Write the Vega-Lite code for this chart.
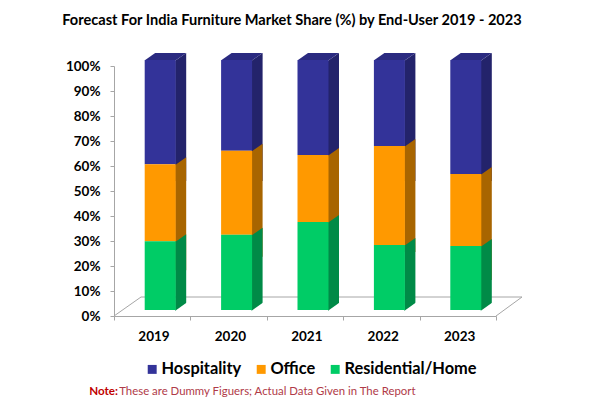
{
  "$schema": "https://vega.github.io/schema/vega-lite/v6.json",
  "autosize": "none",
  "padding": {"left": 114, "top": 66, "right": 104, "bottom": 94},
  "width": 382,
  "height": 250,
  "background": "white",
  "title": {
    "text": "Forecast For India Furniture Market Share (%) by End-User 2019 - 2023",
    "font": "Lato", "fontSize": 14.6, "fontWeight": "bold", "color": "#000000",
    "anchor": "middle", "dx": -13, "offset": 25
  },
  "datasets": {
    "shares": [
      {"year": "2019", "series": "Hospitality", "share": 0.417},
      {"year": "2019", "series": "Office", "share": 0.308},
      {"year": "2019", "series": "Residential/Home", "share": 0.275},
      {"year": "2020", "series": "Hospitality", "share": 0.363},
      {"year": "2020", "series": "Office", "share": 0.336},
      {"year": "2020", "series": "Residential/Home", "share": 0.301},
      {"year": "2021", "series": "Hospitality", "share": 0.38},
      {"year": "2021", "series": "Office", "share": 0.268},
      {"year": "2021", "series": "Residential/Home", "share": 0.352},
      {"year": "2022", "series": "Hospitality", "share": 0.344},
      {"year": "2022", "series": "Office", "share": 0.396},
      {"year": "2022", "series": "Residential/Home", "share": 0.26},
      {"year": "2023", "series": "Hospitality", "share": 0.456},
      {"year": "2023", "series": "Office", "share": 0.288},
      {"year": "2023", "series": "Residential/Home", "share": 0.256}
    ]
  },
  "data": {"name": "shares"},
  "transform": [
    {"stack": "share", "groupby": ["year"], "sort": [{"field": "series", "order": "descending"}], "as": ["y0", "y1"]}
  ],
  "layer": [
    {
      "transform": [{"filter": "datum.year == '2021' && datum.series == 'Office'"}],
      "mark": {
        "type": "point", "filled": false, "size": 4, "strokeWidth": 1, "color": "#a6a6a6", "opacity": 1,
        "shape": "M-191,0L-164,-19L217,-19L191,0"
      },
      "encoding": {
        "x": {"field": "year", "type": "nominal"},
        "y": {"datum": 0, "type": "quantitative", "title": null, "scale": {"domain": [0, 1], "nice": false}}
      }
    },
    {
      "transform": [{"filter": "datum.series == 'Hospitality'"}],
      "mark": {
        "type": "point", "filled": true, "size": 4, "opacity": 1, "strokeWidth": 0, "color": "#23236b",
        "shape": "M23,-5.3L34,-13L34,115L23,115Z"
      },
      "encoding": {
        "x": {"field": "year", "type": "nominal"},
        "y": {"field": "y1", "type": "quantitative"}
      }
    },
    {
      "transform": [{"filter": "datum.series == 'Office'"}],
      "mark": {
        "type": "point", "filled": true, "size": 4, "opacity": 1, "strokeWidth": 0, "color": "#a86500",
        "shape": "M23,-5.3L34,-13L34,100L23,100Z"
      },
      "encoding": {
        "x": {"field": "year", "type": "nominal"},
        "y": {"field": "y1", "type": "quantitative"}
      }
    },
    {
      "transform": [{"filter": "datum.series == 'Residential/Home'"}],
      "mark": {
        "type": "point", "filled": true, "size": 4, "opacity": 1, "strokeWidth": 0, "color": "#008a47",
        "shape": "M23,-5.3L34,-13L34,90L23,90Z"
      },
      "encoding": {
        "x": {"field": "year", "type": "nominal"},
        "y": {"field": "y1", "type": "quantitative"}
      }
    },
    {
      "transform": [{"filter": "datum.series == 'Residential/Home'"}],
      "mark": {
        "type": "point", "filled": true, "size": 4, "opacity": 1, "strokeWidth": 0, "color": "white",
        "shape": "M22,-4.6L36,-14.4L36,29L22,29Z"
      },
      "encoding": {
        "x": {"field": "year", "type": "nominal"},
        "y": {"field": "y0", "type": "quantitative"}
      }
    },
    {
      "transform": [{"filter": "datum.series == 'Hospitality'"}],
      "mark": {
        "type": "point", "filled": true, "size": 4, "opacity": 1, "color": "#2a2a80", "strokeWidth": 0,
        "shape": "M-7,-6L24,-6L34,-13L3,-13Z"
      },
      "encoding": {
        "x": {"field": "year", "type": "nominal"},
        "y": {"datum": 1, "type": "quantitative"}
      }
    },
    {
      "mark": {"type": "bar", "size": 31, "xOffset": 8, "yOffset": -6, "y2Offset": -6},
      "encoding": {
        "x": {
          "field": "year", "type": "nominal", "title": null,
          "scale": {"type": "band", "paddingInner": 0, "paddingOuter": 0},
          "axis": {
            "zindex": 1,
            "labelAngle": 0, "labelFont": "Lato", "labelFontSize": 13.5, "labelFontWeight": "bold", "labelColor": "#000000",
            "tickBand": "extent", "tickSize": 4, "tickColor": "#a6a6a6", "domainColor": "#a6a6a6", "labelPadding": 16, "labelOffset": 17, "grid": false
          }
        },
        "y": {"field": "y0", "type": "quantitative", "title": null, "stack": null},
        "y2": {"field": "y1"},
        "color": {
          "field": "series", "type": "nominal",
          "scale": {"domain": ["Hospitality", "Office", "Residential/Home"], "range": ["#333399", "#ff9900", "#00cc66"]},
          "legend": {
            "title": null, "orient": "none", "legendX": 30, "legendY": 295, "direction": "horizontal", "columns": 3,
            "symbolType": "square", "symbolSize": 80, "symbolStrokeWidth": 0, "symbolOpacity": 1,
            "labelFont": "Lato", "labelFontSize": 16.4, "labelFontWeight": "bold", "labelColor": "#000000",
            "labelOffset": 1, "columnPadding": 11, "labelLimit": 200
          }
        }
      }
    },
    {
      "transform": [{"filter": "datum.year == '2019' && datum.series == 'Office'"}],
      "mark": {"type": "text", "text": "Note:", "font": "Lato", "fontSize": 11.6, "fontWeight": "bold", "color": "#c00000", "align": "left", "baseline": "middle", "dx": -63, "dy": 76},
      "encoding": {
        "x": {"field": "year", "type": "nominal"},
        "y": {"datum": 0, "type": "quantitative"}
      }
    },
    {
      "transform": [{"filter": "datum.year == '2019' && datum.series == 'Office'"}],
      "mark": {"type": "text", "text": "These are Dummy Figuers; Actual Data Given in The Report", "font": "Lato", "fontSize": 11.4, "color": "#b03a48", "align": "left", "baseline": "middle", "dx": -33, "dy": 76},
      "encoding": {
        "x": {"field": "year", "type": "nominal"},
        "y": {"datum": 0, "type": "quantitative"}
      }
    }
  ],
  "config": {
    "view": {"stroke": null},
    "axisY": {
      "zindex": 1, "format": ".0%", "tickCount": 10,
      "labelFont": "Lato", "labelFontSize": 13.5, "labelFontWeight": "bold", "labelColor": "#000000", "labelOverlap": false,
      "tickSize": 4, "tickColor": "#a6a6a6", "domainColor": "#a6a6a6", "labelPadding": 10, "grid": false
    }
  }
}
